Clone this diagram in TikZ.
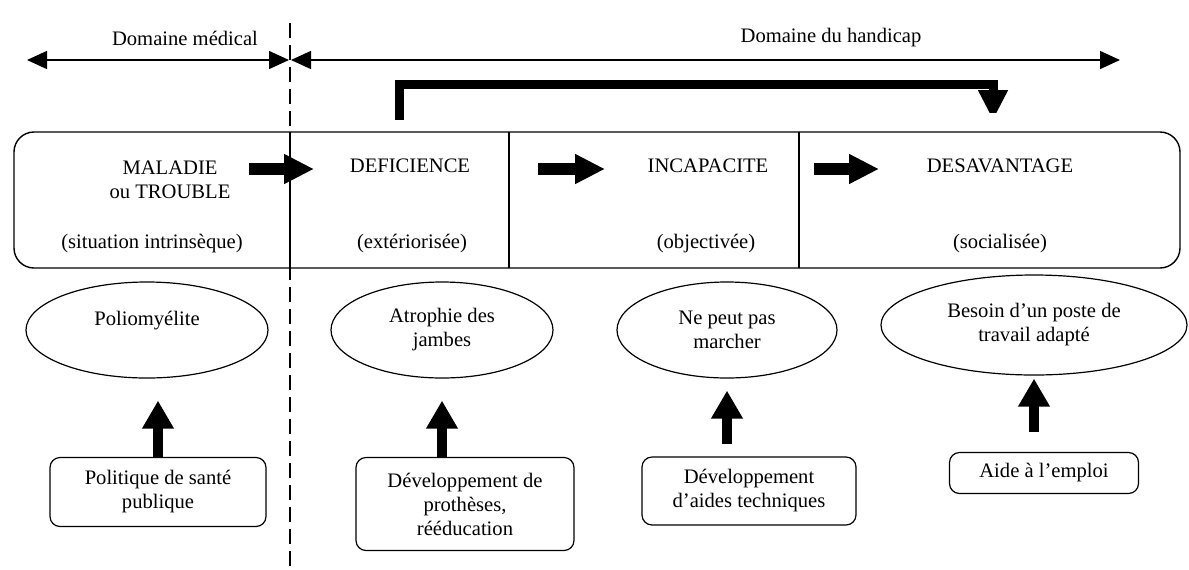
\documentclass[tikz,border=0pt]{standalone}
\usepackage{fontspec}
\setmainfont{Liberation Serif}
\usetikzlibrary{shapes.geometric,arrows.meta,calc}

\begin{document}
\begin{tikzpicture}[
    x=0.5pt, y=-0.5pt,
    txt/.style={font=\fontsize{10.3}{12}\selectfont, align=center, inner sep=0pt},
    oval/.style={ellipse, draw, line width=0.6pt, inner sep=0pt, txt},
    box/.style={rectangle, draw, rounded corners=5pt, line width=0.6pt, txt},
    frame/.style={rectangle, draw, rounded corners=10pt, line width=0.7pt, minimum width=583pt, minimum height=68pt},
    span/.style={{Triangle[length=10pt,width=9pt]}-{Triangle[length=10pt,width=9pt]}, line width=0.7pt},
    bigarrow/.style={-{Triangle[length=15pt,width=14pt]}, line width=6pt},
    uparrow/.style={-{Triangle[length=14pt,width=15pt]}, line width=5pt},
    bentarrow/.style={-{Triangle[length=15pt,width=14pt]}, line width=4.5pt, miter limit=2}
]
\useasboundingbox (0,0) rectangle (1189,569);

% Domaines
\coordinate (medL) at (27,60);
\coordinate (split) at (290,60);
\coordinate (handR) at (1120,60);
\node[txt] (medical) at (185,38) {Domaine médical};
\node[txt] (handicap) at (831,38) {Domaine du handicap};
\draw[span] (medL) -- ([xshift=-0.5pt]split);
\draw[span] ([xshift=0.5pt]split) -- (handR);
\draw[line width=0.8pt, dash pattern=on 7.5pt off 3.5pt] (290,23) coordinate (dtop) -- (290,569) coordinate (dbot);

% Frise
\node[frame] (frise) at (597,200) {};
\foreach \xd in {290,509,799}
  \draw[line width=0.6pt] (\xd,132) -- (\xd,268);

\node[txt] (maladie) at (170,180) {MALADIE\\ou TROUBLE};
\node[txt] (deficience) at (410,166) {DEFICIENCE};
\node[txt] (incapacite) at (708,166) {INCAPACITE};
\node[txt] (desavantage) at (1000,166) {DESAVANTAGE};
\node[txt] (intrinseque) at (152,244) {(situation intrinsèque)};
\node[txt] (exteriorisee) at (412,244) {(extériorisée)};
\node[txt] (objectivee) at (706,244) {(objectivée)};
\node[txt] (socialisee) at (1000,244) {(socialisée)};

\coordinate (a1) at (249,169); \coordinate (b1) at (314,169);
\coordinate (a2) at (538,169); \coordinate (b2) at (605,169);
\coordinate (a3) at (814,169); \coordinate (b3) at (879,169);
\draw[bigarrow] (a1) -- (b1);
\draw[bigarrow] (a2) -- (b2);
\draw[bigarrow] (a3) -- (b3);

% Saut deficience -> desavantage
\coordinate (sautA) at (399,120);
\coordinate (sautB) at (993,120);
\draw[bentarrow] (sautA) -- ++(0,-36) -| (sautB);

% Exemples
\node[oval, minimum width=121pt, minimum height=48pt] (polio) at (147,330) {Poliomyélite\\~};
\node[oval, minimum width=111pt, minimum height=48pt] (atrophie) at (442,330) {Atrophie des\\jambes};
\node[oval, minimum width=110pt, minimum height=48pt] (marche) at (727,330) {Ne peut pas\\marcher};
\node[oval, minimum width=153pt, minimum height=50pt] (poste) at (1034,325) {Besoin d’un poste de\\travail adapté};

% Actions
\node[box, minimum width=108pt, minimum height=34.5pt] (sante) at (158,492) {Politique de santé\\publique};
\node[box, minimum width=109pt, minimum height=46.5pt] (protheses) at (465,504) {Développement de\\prothèses,\\rééducation};
\node[box, minimum width=107pt, minimum height=34pt] (aides) at (749,491) {Développement\\d’aides techniques};
\node[box, minimum width=94.5pt, minimum height=20.5pt] (emploi) at (1044,473) {Aide à l’emploi};

% Edges
\draw[uparrow, shorten >=11pt] (sante.north) -- (sante.north |- polio.south);
\draw[uparrow, shorten >=11pt] (atrophie.south |- protheses.north) -- (atrophie.south);
\draw[uparrow, shorten <=6pt, shorten >=6pt] (marche.south |- aides.north) -- (marche.south);
\draw[uparrow, shorten <=10pt, shorten >=1.5pt] (poste.south |- emploi.north) -- (poste.south);
\end{tikzpicture}
\end{document}
